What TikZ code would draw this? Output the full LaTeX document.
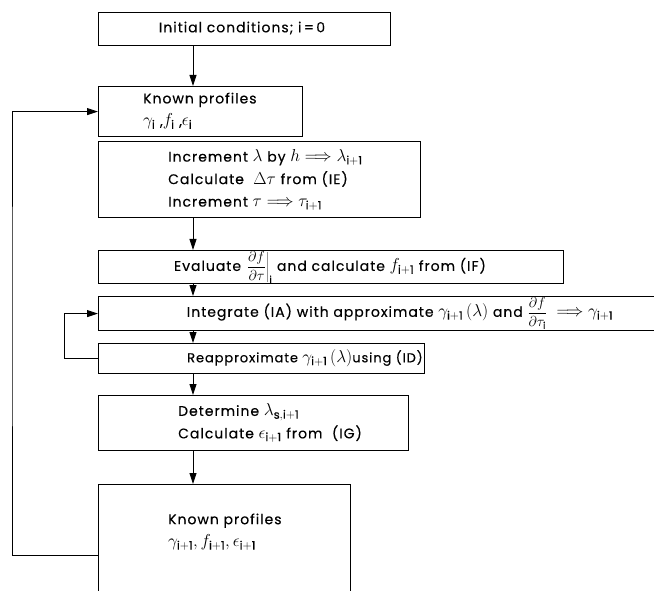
\documentclass[tikz,border=0pt]{standalone}
\usepackage{fontspec}
\setmainfont{Poppins}[LetterSpace=7, FakeBold=0.3]
\usetikzlibrary{arrows.meta}
\newcommand\mm[1]{{\fontsize{16.5}{16.5}\selectfont$#1$}}
\newcommand\mfr[1]{{\fontsize{13.5}{13.5}\selectfont$\displaystyle #1$}}
\begin{document}
\begin{tikzpicture}[x=1pt,y=-1pt,
  box/.style={draw, line width=1.2pt, anchor=north west, inner sep=0pt},
  txt/.style={font=\fontsize{14}{22.5}\selectfont, inner sep=0pt, align=left},
  arr/.style={line width=0.9pt, -{Triangle[length=11pt,width=7pt]}}]
\useasboundingbox (0,0) rectangle (654,591);
% boxes
\node[box, minimum width=292pt, minimum height=33pt] (b1) at (98,12) {};
\node[box, minimum width=204pt, minimum height=50pt] (b2) at (98,86) {};
\node[box, minimum width=322pt, minimum height=76pt] (b3) at (98,141) {};
\node[box, minimum width=465pt, minimum height=33pt] (b4) at (98,250) {};
\node[box, minimum width=580pt, minimum height=34pt] (b5) at (98,296) {};
\node[box, minimum width=326pt, minimum height=30pt] (b6) at (98,343) {};
\node[box, minimum width=310pt, minimum height=55pt] (b7) at (98,395) {};
\node[box, minimum width=252pt, minimum height=120pt] (b8) at (98,484) {};
% texts
\node[txt] (t1) at (242,28) {Initial conditions; i\,=\,0};
\node[txt, anchor=west] (t2) at (143,111) {Known profiles\\ \mm{\gamma_{\mathrm{i}}}\ ,\mm{f_{\mathrm{i}}}\ ,\mm{\epsilon_{\mathrm{i}}}};
\node[txt, anchor=west] (t3) at (168,180) {Increment \mm{\lambda} by \mm{h \Longrightarrow \lambda_{\mathrm{i+1}}}\\ Calculate\ \ \mm{\Delta\tau} from (IE)\\ Increment \mm{\tau \Longrightarrow \tau_{\mathrm{i+1}}}};
\node[txt] (t4) at (330,267) {Evaluate \mfr{\left.\frac{\partial f}{\partial \tau}\right|_{\mathrm{i}}} and calculate \mm{f_{\mathrm{i+1}}} from (IF)};
\node[txt] (t5) at (400,313) {Integrate (IA) with approximate \mm{\gamma_{\mathrm{i+1}}\,(\lambda)} and \mfr{\frac{\partial f}{\partial \tau_{\mathrm{i}}}}\ \ \mm{\Longrightarrow \gamma_{\mathrm{i+1}}}};
\node[txt, anchor=west, font=\fontsize{13}{20}\selectfont] (t6) at (187,358) {Reapproximate \mm{\gamma_{\mathrm{i+1}}\,(\lambda)}using (ID)};
\node[txt, anchor=west] (t7) at (178,423) {Determine \mm{\lambda_{\mathrm{s,i+1}}}\\ Calculate \mm{\epsilon_{\mathrm{i+1}}} from\ \ (IG)};
\node[txt, anchor=west] (t8) at (168,532) {Known profiles\\ \mm{\gamma_{\mathrm{i+1}}, f_{\mathrm{i+1}}, \epsilon_{\mathrm{i+1}}}};
% arrows
\coordinate (ax) at (193,0);
\coordinate (L) at (12,300);
\draw[arr] (b1.south -| ax) -- (b2.north -| ax);
\draw[arr] (b3.south -| ax) -- (b4.north -| ax);
\draw[arr] (b4.south -| ax) -- (b5.north -| ax);
\draw[arr] (b5.south -| ax) -- (b6.north -| ax);
\draw[arr] (b6.south -| ax) -- (b7.north -| ax);
\draw[arr] (b7.south -| ax) -- (b8.north -| ax);
\draw[arr] (b6.west) -- ++(-34,0) |- (b5.west);
\draw[arr] (b8.west |- 0,555) -| (L) |- (b2.west);
\end{tikzpicture}
\end{document}
